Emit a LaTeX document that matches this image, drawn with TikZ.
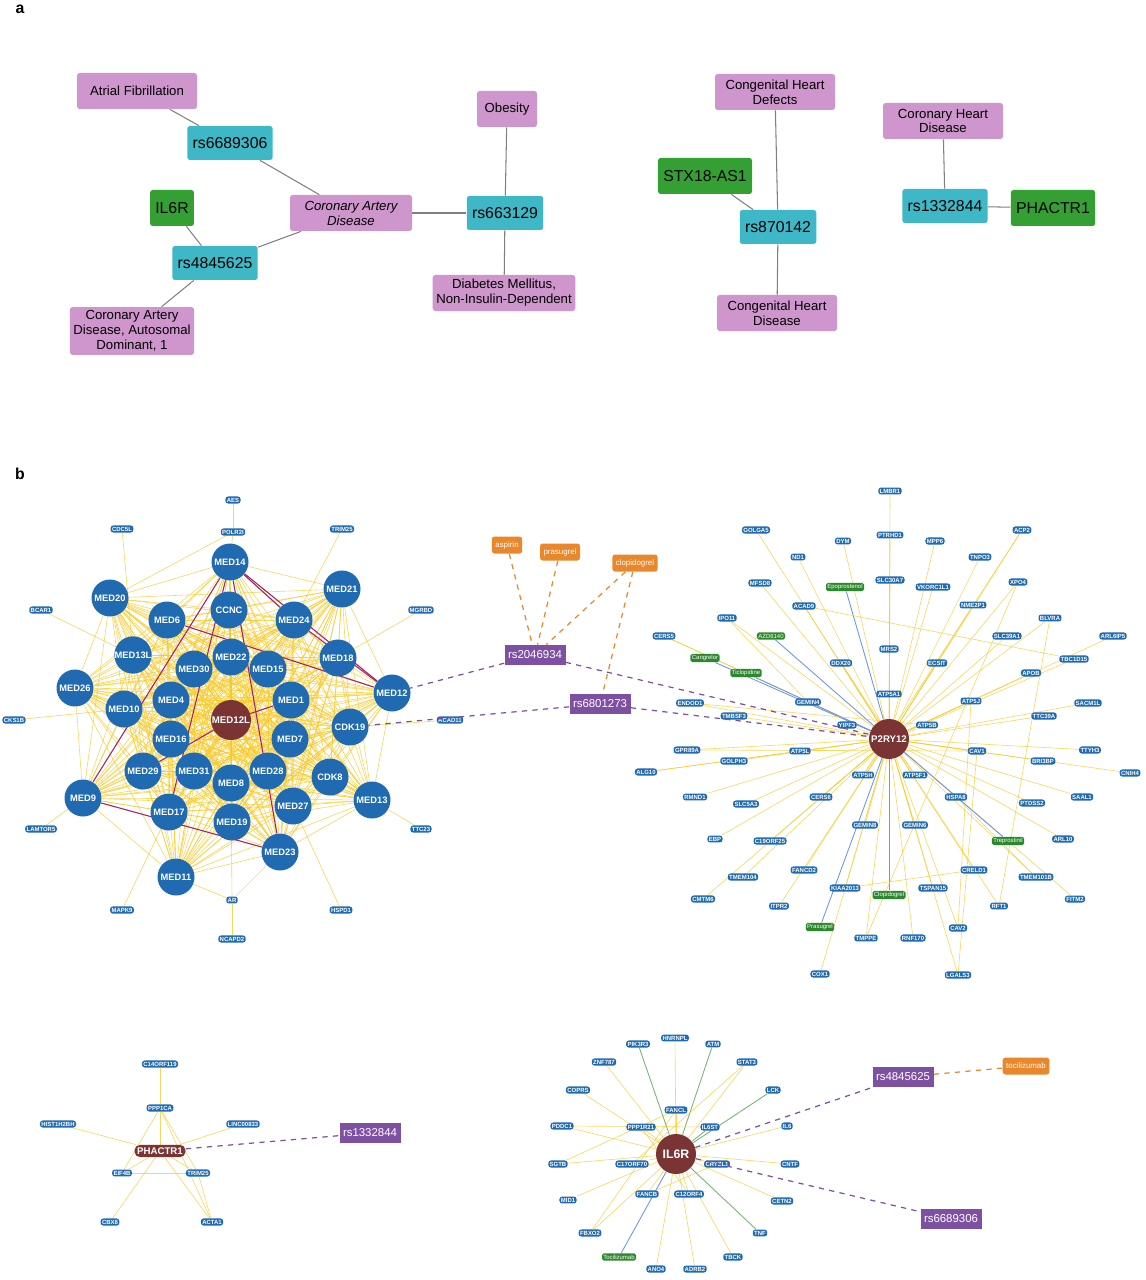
\documentclass[tikz,border=0pt]{standalone}
\usepackage{fontspec}
\setmainfont{Liberation Sans}
\usetikzlibrary{backgrounds}
\definecolor{nodeblue}{RGB}{31,106,176}
\definecolor{hubbrown}{RGB}{122,52,52}
\definecolor{snpcyan}{RGB}{62,184,198}
\definecolor{genegreen}{RGB}{52,160,52}
\definecolor{drugpink}{RGB}{206,150,204}
\definecolor{snppurple}{RGB}{126,80,162}
\definecolor{medorange}{RGB}{232,135,43}
\definecolor{edgeyellow}{RGB}{247,200,40}
\definecolor{edgeblue}{RGB}{110,150,230}
\definecolor{edgegreen}{RGB}{120,180,120}
\tikzset{
  dis/.style={fill=drugpink, rounded corners=1.5pt, minimum height=36*0.02cm, align=center, font=\fontsize{7.5}{8.5}\selectfont, inner sep=2pt},
  snpa/.style={fill=snpcyan, rounded corners=1.5pt, minimum height=34*0.02cm, font=\fontsize{9}{10}\selectfont, inner sep=3pt},
  genea/.style={fill=genegreen, rounded corners=1.5pt, minimum height=36*0.02cm, font=\fontsize{9}{10}\selectfont, inner sep=3pt},
  gene/.style={fill=nodeblue, text=white, rounded corners=1.5pt, inner sep=0.8pt, font=\fontsize{3.4}{3.8}\selectfont\bfseries},
  big/.style={circle, fill=nodeblue, text=white, minimum size=37*0.02cm, inner sep=0pt, font=\fontsize{5.3}{5.5}\selectfont\bfseries},
  hub/.style={circle, fill=hubbrown, text=white, minimum size=40*0.02cm, inner sep=0pt, font=\fontsize{5.5}{6}\selectfont\bfseries},
  drug/.style={fill=genegreen!85!black, text=white, rounded corners=1pt, inner sep=0.8pt, font=\fontsize{3.4}{3.8}\selectfont},
  snp/.style={fill=snppurple, text=white, minimum height=20*0.02cm, font=\fontsize{6.5}{7}\selectfont, inner sep=2pt},
  med/.style={fill=medorange, text=white, rounded corners=1.5pt, minimum height=17*0.02cm, font=\fontsize{4.5}{5}\selectfont, inner sep=2pt},
  ye/.style={edgeyellow, line width=0.35pt, opacity=0.75},
  link/.style={gray, line width=0.6pt},
  snpedge/.style={snppurple, dashed, line width=0.7pt},
  drugedge/.style={medorange, dashed, line width=0.7pt},
}
\begin{document}
\begin{tikzpicture}[x=0.02cm, y=-0.02cm]
  \useasboundingbox (0,0) rectangle (1145,1280);
  \node[font=\bfseries\small] (pa) at (20,9) {a};
  \node[font=\bfseries\small] (pb) at (20,474) {b};

  % panel a
  \node[dis, minimum width=120*0.02cm] (af) at (137,91) {Atrial Fibrillation};
  \node[snpa] (a89306) at (230,143) {rs6689306};
  \node[genea] (ail6r) at (172,208) {IL6R};
  \node[dis, minimum width=122*0.02cm, font=\fontsize{7.5}{8.5}\selectfont\itshape] (cad) at (351,213) {Coronary Artery\\Disease};
  \node[snpa] (a45625) at (215,263) {rs4845625};
  \node[dis, minimum width=122*0.02cm] (cadad) at (132,331) {Coronary Artery\\Disease, Autosomal\\Dominant, 1};
  \node[dis, minimum width=60*0.02cm] (obes) at (507,109) {Obesity};
  \node[snpa] (a63129) at (505,213) {rs663129};
  \node[dis, minimum width=128*0.02cm] (dm) at (504,293) {Diabetes Mellitus,\\Non-Insulin-Dependent};
  \node[dis, minimum width=120*0.02cm] (chdef) at (775,92) {Congenital Heart\\Defects};
  \node[genea] (stx) at (705,176) {STX18-AS1};
  \node[snpa] (a70142) at (778,227) {rs870142};
  \node[dis, minimum width=120*0.02cm] (chdis) at (777,313) {Congenital Heart\\Disease};
  \node[dis, minimum width=120*0.02cm] (chd) at (943,121) {Coronary Heart\\Disease};
  \node[snpa] (a32844) at (945,206) {rs1332844};
  \node[genea] (aphac) at (1053,208) {PHACTR1};
  \begin{scope}[on background layer]
    \foreach \a/\b in {af/a89306, a89306/cad, ail6r/a45625, a45625/cad, a45625/cadad, cad/a63129,
      obes/a63129, a63129/dm, chdef/a70142, stx/a70142, a70142/chdis, chd/a32844, a32844/aphac}
      \draw[link] (\a) -- (\b);
  \end{scope}

  % MED cluster
  \def\medlist{MED14/230/562, MED21/342/589, MED20/110/598, CCNC/229/610, MED6/167/620, MED24/294/620,
    MED13L/133/655, MED22/231/657, MED15/268/669, MED30/194/669, MED18/338/658, MED26/75/688,
    MED4/171/700, MED1/291/700, MED12/392/693, MED10/124/709, CDK19/350/727, MED16/171/739,
    MED7/290/739, MED29/143/771, MED31/194/771, MED8/231/783, MED28/268/771, CDK8/330/777,
    MED9/83/798, MED17/169/812, MED19/232/822, MED27/293/806, MED13/372/800, MED23/280/852,
    MED11/176/877, MED12L/231/720}
  \foreach \n/\x/\y in \medlist
    \node[big] (\n) at (\x,\y) {\n};
  \node[hub] (MED12L) at (231,720) {MED12L};
  \foreach \n/\x/\y/\t in {cAES/233/500/AES, cPOLR2I/233/532/POLR2I, cCDC5L/122/529/CDC5L,
    cTRIM25/342/529/TRIM25, cBCAR1/41/610/BCAR1, cMGRB/421/610/MGRBD, cCKS1B/14/720/CKS1B,
    cACAD11/450/720/ACAD11, cLAMTOR5/41/829/LAMTOR5, cTTC23/421/829/TTC23, cMAPK9/122/910/MAPK9,
    cAR/232/900/AR, cHSPD1/341/910/HSPD1, cNCAPD2/232/939/NCAPD2}
    \node[gene] (\n) at (\x,\y) {\t};
  \begin{scope}[on background layer]
    \foreach \a/\xa/\ya [count=\i] in \medlist
      \foreach \b/\xb/\yb [count=\j] in \medlist
        {\ifnum\j>\i \draw[ye] (\a) -- (\b);\fi}
    \foreach \a/\b in {MED14/MED12, MED14/MED9, MED14/MED23, MED14/MED17, MED6/MED12, MED9/MED23,
      MED12L/MED1, MED12L/MED29, MED24/MED12, MED14/MED24}
      \draw[hubbrown!70!magenta, line width=0.6pt] (\a) -- (\b);
    \foreach \a/\b in {cAES/cPOLR2I, cPOLR2I/MED14, cPOLR2I/MED20, cCDC5L/MED13L, cBCAR1/MED13L,
      cTRIM25/MED24, cMGRB/MED18, cCKS1B/MED10, cACAD11/CDK19, cLAMTOR5/MED9, cTTC23/MED13,
      cMAPK9/MED17, cHSPD1/MED27, cAR/MED8, cNCAPD2/cAR, cAR/MED11, cAR/MED23}
      \draw[ye] (\a) -- (\b);
  \end{scope}

  % drugs and SNPs between the clusters
  \node[med] (aspirin) at (507,545) {aspirin};
  \node[med] (prasugrel) at (560,552) {prasugrel};
  \node[med] (clopidogrel) at (635,563) {clopidogrel};
  \node[snp] (rs2046934) at (535,655) {rs2046934};
  \node[snp] (rs6801273) at (600,704) {rs6801273};

  % P2RY12 cluster
  \node[hub, minimum size=40*0.02cm] (P2RY12) at (889,739) {P2RY12};
  \foreach \n/\x/\y in {LMBR1/890/491, GOLGA5/756/530, DYM/843/541, PTRHD1/890/535, MPP6/935/541,
    ACP2/1022/530, ND1/798/557, TNPO3/980/557, MFSD8/760/583, SLC30A7/890/580, VKORC1L1/933/587,
    XPO4/1018/582, ACAD9/804/606, NME2P1/973/605, IPO11/727/618, BLVRA/1050/618, CERS5/664/636,
    SLC39A1/1007/636, ARL6IP5/1113/636, MRS2/889/649, DDX20/841/663, ECSIT/937/663,
    TBC1D15/1074/659, APOB/1031/673, ATP5A1/889/694, GEMIN4/808/702, ATP5J/971/701,
    SACM1L/1088/703, ENDOD1/690/703, TMBSF3/734/716, TTC39A/1044/716, YIPF3/847/725,
    ATP5B/927/725, GPR89A/687/750, ATP5L/800/751, CAV1/977/751, TTYH3/1090/750, GOLPH3/734/761,
    BRI3BP/1043/761, ALG10/646/772, CNIH4/1130/773, ATP5H/863/775, ATP5F1/915/775, RMND1/695/797,
    SLC5A3/746/804, CERS6/821/797, HSPA8/956/797, PTDSS2/1032/803, SAAL1/1082/797, GEMIN8/865/825,
    GEMIN6/915/825, EBP/715/839, C19ORF25/770/841, ARL10/1063/839, FANCD2/804/870, CRELD1/974/870,
    TMEM104/743/877, TMEM101B/1036/877, KIAA2013/845/888, TSPAN15/933/888, CMTM6/703/899,
    ITPR2/779/906, RFT1/999/906, FITM2/1075/899, CAV2/958/928, TMPPE/866/938, RNF170/913/938,
    COX1/820/974, LGALS3/958/975}
    {\node[gene] (\n) at (\x,\y) {\n};
     \begin{scope}[on background layer]\draw[ye] (\n) -- (P2RY12);\end{scope}}
  \foreach \n/\x/\y in {Epoprostenol/845/587, AZD6140/771/636, Cangrelor/705/658,
    Ticlopidine/746/673, Treprostinil/1008/841, Clopidogrel/889/895, Prasugrel/820/927}
    {\node[drug] (\n) at (\x,\y) {\n};
     \begin{scope}[on background layer]\draw[edgeblue, line width=0.5pt] (\n) -- (P2RY12);\end{scope}}
  \begin{scope}[on background layer]
    \foreach \a/\b in {ACAD9/TBC1D15, CERS5/Ticlopidine, IPO11/GEMIN4, ENDOD1/ATP5B, GPR89A/CAV1,
      ALG10/ATP5L, KIAA2013/CRELD1, CAV2/ATP5J, LGALS3/CAV1, ACP2/ATP5H, XPO4/TMPPE, BLVRA/RFT1,
      HSPA8/TMEM101B, DDX20/ATP5F1}
      \draw[ye] (\a) -- (\b);
  \end{scope}

  % PHACTR1 cluster
  \node[hub, rectangle, rounded corners=3pt, minimum size=0pt, inner sep=1.5pt] (pPHACTR1) at (160,1151) {PHACTR1};
  \foreach \n/\x/\y/\t in {pC14ORF119/160/1064/C14ORF119, pPPP1CA/160/1108/PPP1CA,
    pHIST1H2BH/58/1124/HIST1H2BH, pLINC00833/243/1124/LINC00833, pEIF4B/122/1173/EIF4B,
    pTRIM25/198/1173/TRIM25, pCBX8/110/1222/CBX8, pACTA1/212/1222/ACTA1}
    \node[gene] (\n) at (\x,\y) {\t};
  \node[snp] (prs1332844) at (370,1133) {rs1332844};
  \begin{scope}[on background layer]
    \foreach \a/\b in {pC14ORF119/pPPP1CA, pPPP1CA/pPHACTR1, pHIST1H2BH/pPHACTR1,
      pLINC00833/pPHACTR1, pEIF4B/pPHACTR1, pTRIM25/pPHACTR1, pCBX8/pPHACTR1, pACTA1/pPHACTR1,
      pPPP1CA/pEIF4B, pPPP1CA/pTRIM25, pPPP1CA/pACTA1, pEIF4B/pTRIM25, pTRIM25/pACTA1}
      \draw[ye] (\a) -- (\b);
  \end{scope}

  % IL6R cluster
  \node[hub] (iIL6R) at (676,1154) {\fontsize{7}{8}\selectfont IL6R};
  \foreach \n/\x/\y in {HNRNPL/675/1038, ZNF787/604/1062, STAT3/747/1062, COPRS/578/1090,
    FANCL/676/1110, PDDC1/562/1126, PPP1R21/641/1127, IL6/787/1126, SGTB/558/1164,
    C17ORF70/632/1164, CRYZL1/717/1164, CNTF/790/1164, FANCB/647/1194, C12ORF4/689/1194,
    MID1/568/1200, CETN2/782/1201, FBXO2/590/1233, TBCK/733/1257, ANO4/656/1269, ADRB2/695/1269}
    {\node[gene] (\n) at (\x,\y) {\n};
     \begin{scope}[on background layer]\draw[ye] (\n) -- (iIL6R);\end{scope}}
  \foreach \n/\x/\y in {PIK3R3/638/1044, ATM/713/1044, LCK/773/1090, IL6ST/710/1127, TNF/760/1233}
    {\node[gene] (\n) at (\x,\y) {\n};
     \begin{scope}[on background layer]\draw[edgegreen, line width=0.5pt] (\n) -- (iIL6R);\end{scope}}
  \node[drug] (Tocilizumab) at (619,1257) {Tocilizumab};
  \node[snp] (irs4845625) at (903,1077) {rs4845625};
  \node[med] (tocilizumab) at (1026,1066) {tocilizumab};
  \node[snp] (irs6689306) at (951,1219) {rs6689306};
  \begin{scope}[on background layer]
    \draw[edgeblue, line width=0.5pt] (Tocilizumab) -- (iIL6R);
    \foreach \a/\b in {FANCL/SGTB, FANCL/FBXO2, STAT3/C17ORF70, IL6ST/PDDC1, FANCB/CRYZL1, C12ORF4/PPP1R21}
      \draw[ye] (\a) -- (\b);
  \end{scope}

  % dashed SNP and drug links
  \foreach \a/\b in {aspirin/rs2046934, prasugrel/rs2046934, clopidogrel/rs2046934, clopidogrel/rs6801273,
    irs4845625/tocilizumab}
    \draw[drugedge] (\a) -- (\b);
  \foreach \a/\b in {rs2046934/MED12, rs2046934/P2RY12, rs6801273/CDK19, rs6801273/P2RY12,
    pPHACTR1/prs1332844, iIL6R/irs4845625, iIL6R/irs6689306}
    \draw[snpedge] (\a) -- (\b);
\end{tikzpicture}
\end{document}
